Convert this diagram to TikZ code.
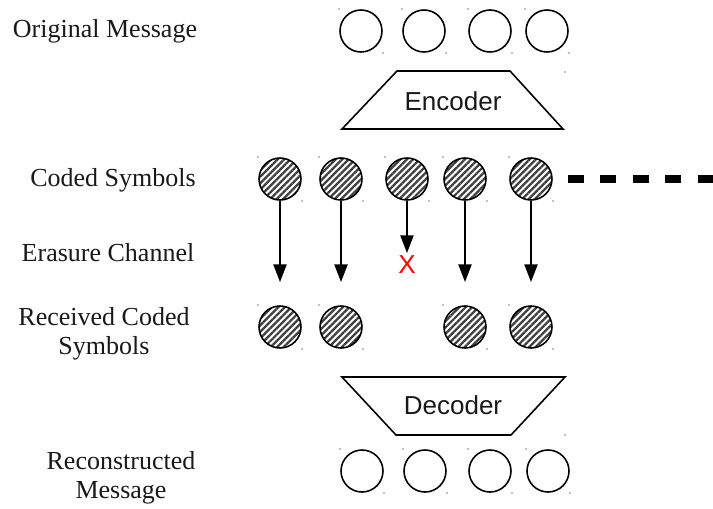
\documentclass[tikz,border=0pt]{standalone}
\usepackage{fontspec}
\setmainfont{Liberation Serif}
\setsansfont{Liberation Sans}
\usetikzlibrary{arrows.meta}
\usetikzlibrary{patterns.meta}

\begin{document}
\begin{tikzpicture}[x=0.02cm,y=-0.02cm,
    rowlabel/.style={font=\fontsize{14.8}{16.5}\selectfont, align=center, text=black!90},
    msg/.style={circle, draw, line width=0.9pt, minimum size=0.84cm, inner sep=0pt},
    sym/.style={msg, preaction={fill=white}, pattern={Lines[angle=45,distance=2.6pt,line width=1.3pt]}, pattern color=black!75},
    coder/.style={font=\sffamily\fontsize{14.8}{17}\selectfont, text=black!90},
    flow/.style={-{Triangle[length=10pt,width=7.5pt]}, line width=0.8pt}]
  \useasboundingbox (0,0) rectangle (713,508);
  % row labels
  \node[rowlabel] (lorig) at (105,31) {Original Message};
  \node[rowlabel] (lcoded) at (113,180) {Coded Symbols};
  \node[rowlabel] (lchan) at (108,253) {Erasure Channel};
  \node[rowlabel] (lrecv) at (104,334) {Received Coded\\Symbols};
  \node[rowlabel] (lrec) at (121,478) {Reconstructed\\Message};
  % original message
  \node[msg] (o1) at (361,31) {};
  \node[msg] (o2) at (424,31) {};
  \node[msg] (o3) at (490,31) {};
  \node[msg] (o4) at (547,31) {};
  % encoder
  \draw[line width=0.9pt] (397,71) -- (510,71) -- (563,129) -- (342,129) -- cycle;
  \node[coder] (enc) at (453,101) {Encoder};
  % coded symbols
  \node[sym] (c1) at (280,179) {};
  \node[sym] (c2) at (341,179) {};
  \node[sym] (c3) at (407,179) {};
  \node[sym] (c4) at (465,179) {};
  \node[sym] (c5) at (531,179) {};
  \coordinate (more) at (713,179);
  \draw[line width=4pt, dash pattern=on 9.1pt off 9.4pt] ([xshift=8.5pt] c5.east) -- (more);
  % erasure channel
  \coordinate (a1) at (280,282);
  \coordinate (a2) at (341,282);
  \coordinate (a3) at (407,253);
  \coordinate (a4) at (465,282);
  \coordinate (a5) at (531,282);
  \foreach \i in {1,...,5}
    \draw[flow] (c\i) -- (a\i);
  \node[coder, text=red] (lost) at (407,265) {X};
  % received coded symbols
  \node[sym] (r1) at (280,327) {};
  \node[sym] (r2) at (341,327) {};
  \node[sym] (r4) at (465,327) {};
  \node[sym] (r5) at (531,327) {};
  % decoder
  \draw[line width=0.9pt] (342,377) -- (565,377) -- (511,435) -- (396,435) -- cycle;
  \node[coder] (dec) at (453,405) {Decoder};
  % reconstructed message
  \node[msg] (m1) at (362,471) {};
  \node[msg] (m2) at (425,471) {};
  \node[msg] (m3) at (490,471) {};
  \node[msg] (m4) at (548,471) {};
  % corner dots
  \foreach \n in {o1,o2,o3,o4,c1,c2,c3,c4,c5,r1,r2,r4,r5,m1,m2,m3,m4}
    \fill[black!50] (\n.center) ++(-22,-22) circle[radius=0.5pt] (\n.center) ++(22,22) circle[radius=0.5pt];
  \fill[black!50] (565,72) circle[radius=0.5pt] (565,435) circle[radius=0.5pt];
\end{tikzpicture}
\end{document}
